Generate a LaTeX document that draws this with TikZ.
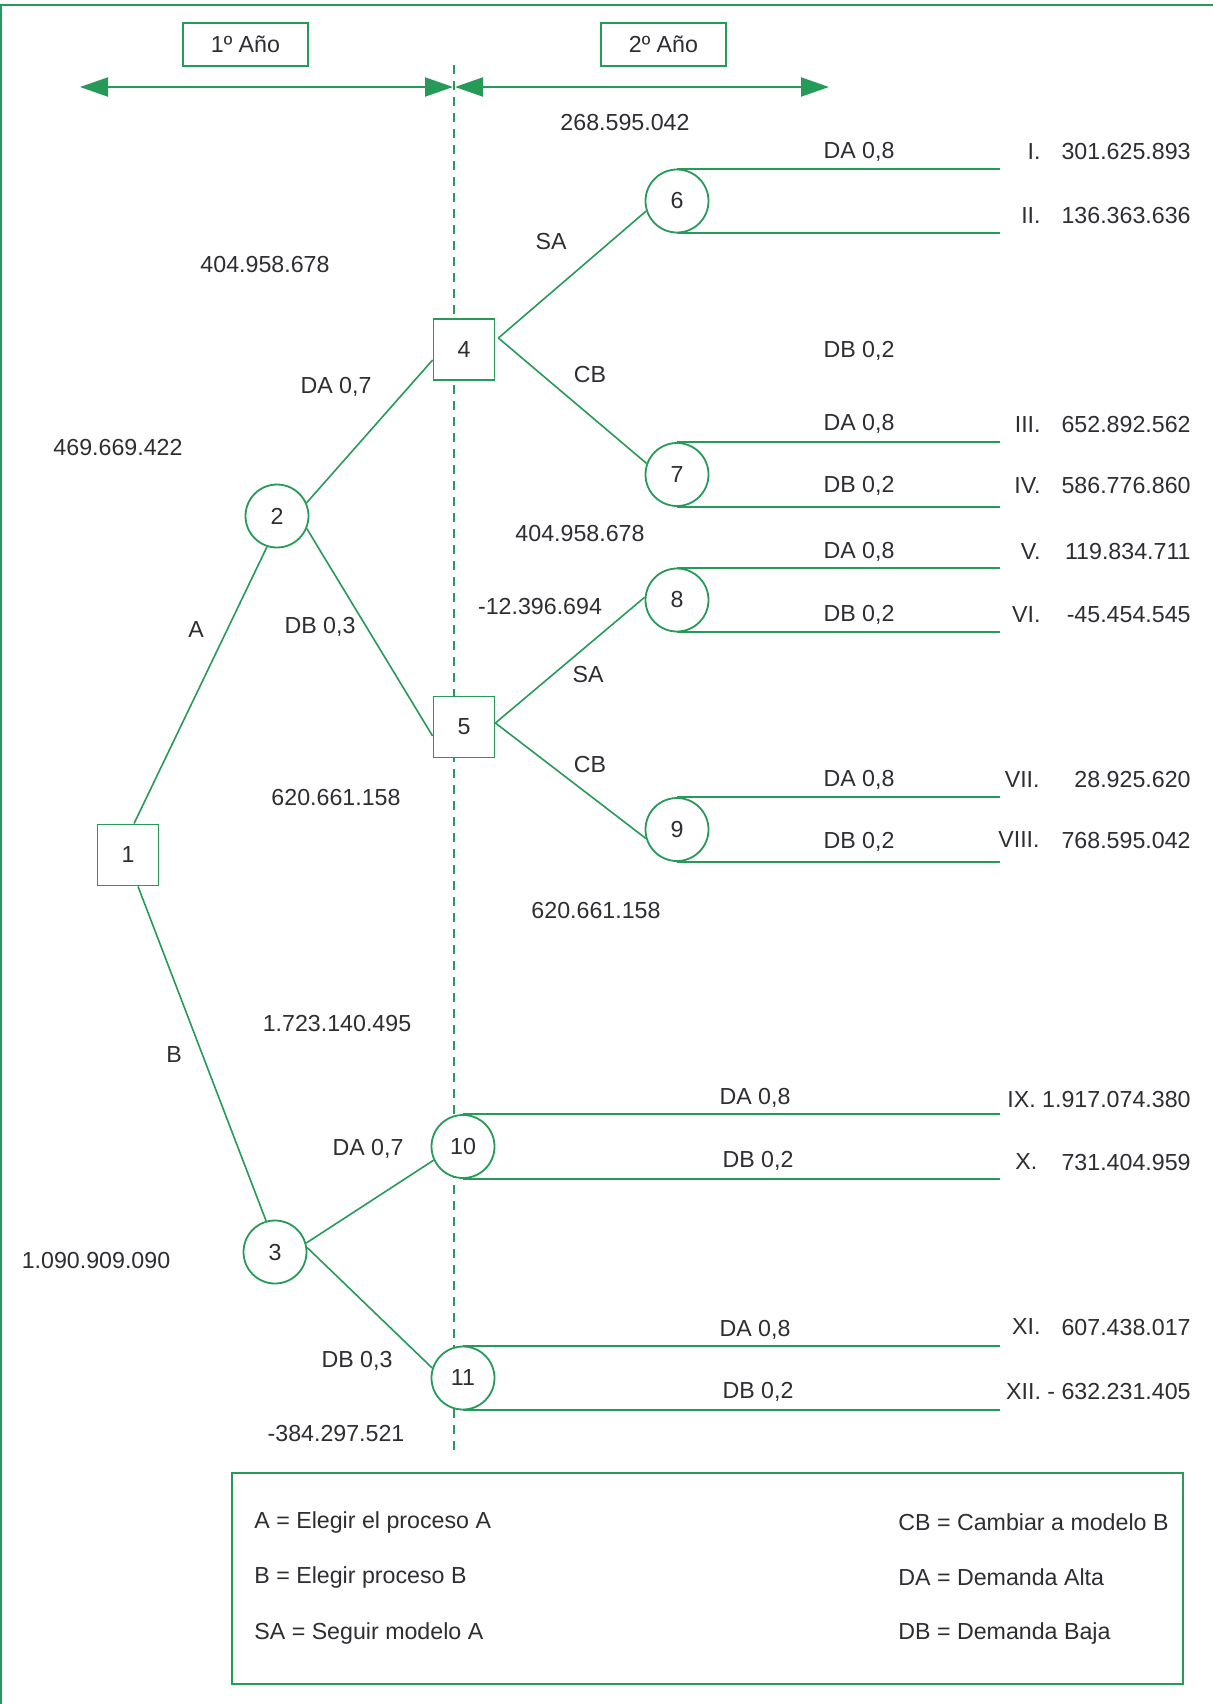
\documentclass[tikz,border=0pt]{standalone}
\usepackage{fontspec}
\setmainfont{Liberation Sans}
\usetikzlibrary{arrows.meta}
\definecolor{treegreen}{RGB}{38,154,88}
\definecolor{ink}{RGB}{45,45,50}
\tikzset{yeartip/.tip={Triangle[length=14pt,width=9.5pt]}}

\begin{document}
\begin{tikzpicture}[x=0.5pt,y=-0.5pt,
  every node/.style={text=ink, font=\fontsize{11.6}{14}\selectfont},
  link/.style={draw=treegreen, line width=0.8pt},
  branch/.style={draw=treegreen, line width=1pt},
  decision/.style={draw=treegreen, fill=white, line width=0.9pt, rectangle,
    minimum width=30.5pt, minimum height=30.5pt, inner sep=0pt},
  chance/.style={draw=treegreen, fill=white, line width=0.9pt, circle,
    minimum size=31.5pt, inner sep=0pt},
  yearbox/.style={draw=treegreen, line width=0.9pt, minimum width=62.5pt,
    minimum height=21.5pt, inner sep=0pt},
  lbl/.style={inner sep=0pt},
]
\useasboundingbox (0,0) rectangle (1213,1704);

% outer frame (top and left edges)
\coordinate (fTR) at (1213,4.5);
\coordinate (fTL) at (0.75,4.5);
\coordinate (fBL) at (0.75,1704);
\draw[treegreen, line width=1pt] (fTR) -- (fTL) -- (fBL);

% year headers and spans
\node[yearbox] (y1) at (245.5,44.5) {1º Año};
\node[yearbox] (y2) at (663.5,44.5) {2º Año};
\coordinate (yL) at (80,87);
\coordinate (yM) at (454,87);
\coordinate (yR) at (829,87);
\draw[treegreen, line width=1pt, yeartip-yeartip] (yL) -- ([xshift=-0.5pt]yM);
\draw[treegreen, line width=1pt, yeartip-yeartip] ([xshift=0.5pt]yM) -- (yR);

% boundary between the two years
\coordinate (dTop) at (454,65);
\coordinate (dBot) at (454,1455);
\draw[treegreen, line width=0.9pt, dash pattern=on 4.5pt off 3.5pt] (dTop) -- (dBot);

% decision and chance nodes
\node[decision] (n1) at (128,855) {1};
\node[chance] (n2) at (277,516) {2};
\node[chance] (n3) at (275,1252) {3};
\node[decision] (n4) at (464,349.5) {4};
\node[decision] (n5) at (464,727) {5};
\node[chance] (n6) at (677,201) {6};
\node[chance] (n7) at (677,474.5) {7};
\node[chance] (n8) at (677,600) {8};
\node[chance] (n9) at (677,829.5) {9};
\node[chance] (n10) at (463,1146.5) {10};
\node[chance] (n11) at (463,1378) {11};

% branches
\draw[link] ([xshift=3pt]n1.north) -- (n2.252);
\draw[link] ([xshift=5pt]n1.south) -- (n3.106);
\draw[link] (n2.24) -- ([yshift=-5.25pt]n4.west);
\draw[link] (n2.-23) -- ([yshift=-4.5pt]n5.west);
\draw[link] ([xshift=1.5pt,yshift=5.75pt]n4.east) -- (n6.198);
\draw[link] ([xshift=1.5pt,yshift=5.75pt]n4.east) -- (n7.160);
\draw[link] ([yshift=2pt]n5.east) -- (n8.175);
\draw[link] ([yshift=2pt]n5.east) -- (n9.196);
\draw[link] (n3.16) -- (n10.205);
\draw[link] (n3.8) -- (n11.162);

% outcome lines
\coordinate (rEnd) at (1000,0);
\foreach \n in {n6,n7,n8,n9,n10,n11} {
  \draw[branch] (\n.north) -- (\n.north -| rEnd);
  \draw[branch] (\n.south) -- (\n.south -| rEnd);
}

% branch labels
\node[lbl] (bA) at (196,630) {A};
\node[lbl] (bB) at (174,1055) {B};
\node[lbl] (b24) at (336,387) {DA 0,7};
\node[lbl] (b25) at (320,627) {DB 0,3};
\node[lbl] (b310) at (368,1149) {DA 0,7};
\node[lbl] (b311) at (357,1361) {DB 0,3};
\node[lbl] (b46) at (551,242) {SA};
\node[lbl] (b47) at (590,375) {CB};
\node[lbl] (b58) at (588,675) {SA};
\node[lbl] (b59) at (590,765) {CB};

% expected values
\node[lbl] (v0) at (625,123) {268.595.042};
\node[lbl] (v1) at (265,265) {404.958.678};
\node[lbl] (v2) at (118,448) {469.669.422};
\node[lbl] (v3) at (580,534) {404.958.678};
\node[lbl] (v4) at (540,607) {-12.396.694};
\node[lbl] (v5) at (336,797) {620.661.158};
\node[lbl] (v6) at (596,910) {620.661.158};
\node[lbl] (v7) at (337,1023) {1.723.140.495};
\node[lbl] (v8) at (96,1260) {1.090.909.090};
\node[lbl] (v9) at (336,1433) {-384.297.521};

% probabilities on outcome lines
\node[lbl] (p1) at (859,152) {DA 0,8};
\node[lbl] (p2) at (859,351) {DB 0,2};
\node[lbl] (p3) at (859,424) {DA 0,8};
\node[lbl] (p4) at (859,486) {DB 0,2};
\node[lbl] (p5) at (859,552) {DA 0,8};
\node[lbl] (p6) at (859,615) {DB 0,2};
\node[lbl] (p7) at (859,780) {DA 0,8};
\node[lbl] (p8) at (859,842) {DB 0,2};
\node[lbl] (p9) at (755,1098) {DA 0,8};
\node[lbl] (p10) at (758,1161) {DB 0,2};
\node[lbl] (p11) at (755,1330) {DA 0,8};
\node[lbl] (p12) at (758,1392) {DB 0,2};

% outcomes
\node[lbl, anchor=east] (r1) at (1041,152) {I.};
\node[lbl, anchor=east] (o1) at (1191,152) {301.625.893};
\node[lbl, anchor=east] (r2) at (1041,216) {II.};
\node[lbl, anchor=east] (o2) at (1191,216) {136.363.636};
\node[lbl, anchor=east] (r3) at (1041,425) {III.};
\node[lbl, anchor=east] (o3) at (1191,425) {652.892.562};
\node[lbl, anchor=east] (r4) at (1041,486) {IV.};
\node[lbl, anchor=east] (o4) at (1191,486) {586.776.860};
\node[lbl, anchor=east] (r5) at (1041,552) {V.};
\node[lbl, anchor=east] (o5) at (1191,552) {119.834.711};
\node[lbl, anchor=east] (r6) at (1041,615) {VI.};
\node[lbl, anchor=east] (o6) at (1191,615) {-45.454.545};
\node[lbl, anchor=east] (r7) at (1040,780) {VII.};
\node[lbl, anchor=east] (o7) at (1191,780) {28.925.620};
\node[lbl, anchor=east] (r8) at (1040,840) {VIII.};
\node[lbl, anchor=east] (o8) at (1191,840) {768.595.042};
\node[lbl, anchor=east] (o9) at (1191,1099) {IX. 1.917.074.380};
\node[lbl, anchor=west] (r10) at (1015,1162) {X.};
\node[lbl, anchor=east] (o10) at (1191,1162) {731.404.959};
\node[lbl, anchor=east] (r11) at (1041,1327) {XI.};
\node[lbl, anchor=east] (o11) at (1191,1327) {607.438.017};
\node[lbl, anchor=east] (o12) at (1191,1391) {XII. - 632.231.405};

% legend
\coordinate (kTL) at (232,1473);
\coordinate (kBR) at (1183,1684);
\draw[treegreen, line width=1pt] (kTL) rectangle (kBR);
\node[lbl, anchor=west] (k1) at (254,1522) {A = Elegir el proceso A};
\node[lbl, anchor=west] (k2) at (254,1577) {B = Elegir proceso B};
\node[lbl, anchor=west] (k3) at (254,1633) {SA = Seguir modelo A};
\node[lbl, anchor=west] (k4) at (898,1522) {CB = Cambiar a modelo B};
\node[lbl, anchor=west] (k5) at (898,1577) {DA = Demanda Alta};
\node[lbl, anchor=west] (k6) at (898,1633) {DB = Demanda Baja};
\end{tikzpicture}
\end{document}
